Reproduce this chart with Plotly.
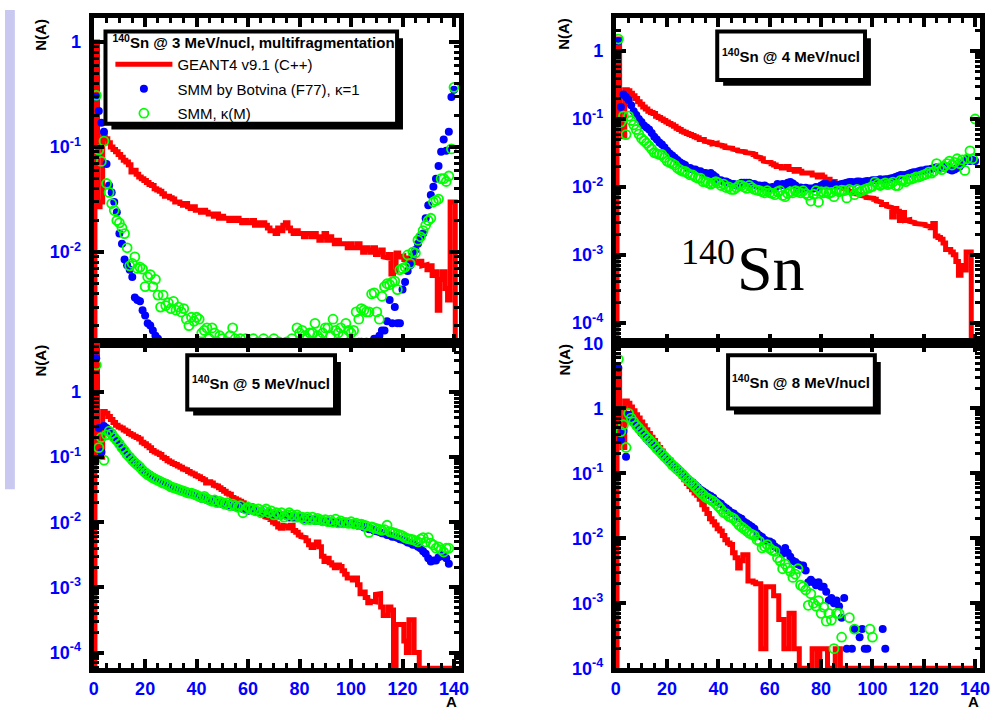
import plotly.graph_objects as go

W, H = 1007, 720
A = list(range(1, 141))

# ---------------- 3 MeV/nucl (top left) ----------------
g4_3 = [1.0, 0.027, 0.03, 0.13, 0.12, 0.11, 0.10, 0.095, 0.09, 0.085,
        0.08, 0.075, 0.072, 0.068, 0.058, 0.06, 0.055, 0.052, 0.05, 0.048,
        0.046, 0.044, 0.043, 0.04, 0.039, 0.038, 0.036, 0.034, 0.034, 0.033,
        0.032, 0.030, 0.030, 0.029, 0.028, 0.029, 0.027, 0.026, 0.027, 0.025,
        0.025, 0.024, 0.025, 0.024, 0.023, 0.023, 0.022, 0.023, 0.021, 0.022,
        0.021, 0.021, 0.020, 0.021, 0.020, 0.021, 0.020, 0.019, 0.020, 0.019,
        0.019, 0.020, 0.018, 0.019, 0.018, 0.019, 0.018, 0.017, 0.016, 0.016,
        0.015, 0.017, 0.016, 0.018, 0.019, 0.017, 0.016, 0.015, 0.016, 0.015,
        0.015, 0.014, 0.015, 0.015, 0.014, 0.015, 0.014, 0.013, 0.014, 0.015,
        0.013, 0.014, 0.013, 0.012, 0.013, 0.012, 0.012, 0.012, 0.011, 0.012,
        0.011, 0.011, 0.012, 0.011, 0.010, 0.011, 0.0105, 0.010, 0.011, 0.0095,
        0.010, 0.0105, 0.009, 0.0088, 0.0095, 0.0062, 0.0065, 0.0098, 0.009, 0.0092,
        0.0085, 0.0088, 0.0075, 0.0085, 0.008, 0.0078, 0.0082, 0.0074, 0.0076, 0.0068,
        0.0074, 0.006, 0.0065, 0.0028, 0.0055, 0.0065, 0.0045, 0.0035, 0.03, 0.03]
f77_3 = [0.30, 0.22, 0.17, 0.14, 0.069, 0.043, 0.037, 0.030, 0.024, 0.015,
         0.012, 0.0085, 0.0075, 0.0068, 0.0058, 0.0037, 0.0035, 0.0034, 0.0028, 0.0025,
         0.0021, 0.0020, 0.0018, 0.0016, 0.0015, 0.0013, 0.0012, 0.0011, 0.0010, 0.00095,
         0.0009, 0.00085, 0.0008, 0.00078, 0.00075, 0.0007, 0.00068, 0.00065, 0.00062, 0.0006,
         0.00058, 0.00055, 0.00054, 0.00052, 0.0005, 0.00049, 0.00048, 0.00047, 0.00046, 0.00045,
         0.00044, 0.00043, 0.00043, 0.00042, 0.00042, 0.00041, 0.00041, 0.0004, 0.0004, 0.0004,
         0.0004, 0.0004, 0.0004, 0.0004, 0.0004, 0.0004, 0.00041, 0.00041, 0.00042, 0.00042,
         0.00043, 0.00044, 0.00045, 0.00046, 0.00047, 0.00048, 0.0005, 0.00052, 0.00054, 0.00056,
         0.00058, 0.0006, 0.00062, 0.00065, 0.00068, 0.0007, 0.00074, 0.00078, 0.0008, 0.00085,
         0.0009, 0.00095, 0.001, 0.0011, 0.0011, 0.0012, 0.0012, 0.0013, 0.0013, 0.0013,
         0.0014, 0.0013, 0.0014, 0.0014, 0.0013, 0.0014, 0.0013, 0.0014, 0.0015, 0.0014,
         0.0016, 0.0018, 0.0018, 0.0022, 0.0035, 0.0021, 0.003, 0.0021, 0.0021, 0.0044,
         0.0052, 0.0066, 0.0075, 0.0093, 0.0105, 0.012, 0.014, 0.015, 0.021, 0.028,
         0.035, 0.042, 0.05, 0.066, 0.09, 0.118, 0.092, 0.14, 0.30, 0.35]
km_3 = [0.31, 0.094, 0.073, 0.114, 0.045, 0.037, 0.029, 0.025, 0.020, 0.019,
        0.017, 0.015, 0.011, 0.0074, 0.0078, 0.009, 0.007, 0.0072, 0.0069, 0.0047,
        0.0058, 0.0061, 0.0047, 0.0055, 0.0039, 0.003, 0.0039, 0.0031, 0.0033, 0.0029,
        0.0034, 0.0028, 0.003, 0.0027, 0.0029, 0.0023, 0.002, 0.0024, 0.0022, 0.0024,
        0.0023, 0.0017, 0.0018, 0.0019, 0.0015, 0.0019, 0.0017, 0.0014, 0.0016, 0.0015,
        0.0013, 0.0014, 0.0016, 0.0019, 0.0015, 0.0014, 0.0015, 0.0013, 0.0015, 0.0014,
        0.0012, 0.0015, 0.0013, 0.0014, 0.0012, 0.0015, 0.0011, 0.0014, 0.0013, 0.0015,
        0.0012, 0.0014, 0.0013, 0.0012, 0.0014, 0.0012, 0.0015, 0.0013, 0.0019, 0.0017,
        0.0018, 0.0016, 0.0015, 0.0017, 0.0017, 0.0021, 0.0016, 0.0015, 0.0017, 0.0019,
        0.0019, 0.0016, 0.0023, 0.0018, 0.0017, 0.0019, 0.0016, 0.0021, 0.0018, 0.0017,
        0.0018, 0.0027, 0.0023, 0.0029, 0.0028, 0.0027, 0.0027, 0.004, 0.0041, 0.0027,
        0.0023, 0.0038, 0.0047, 0.005, 0.0049, 0.0052, 0.0053, 0.0044, 0.0068, 0.007,
        0.0072, 0.0094, 0.0078, 0.01, 0.0098, 0.013, 0.014, 0.016, 0.018, 0.02,
        0.021, 0.03, 0.031, 0.032, 0.05, 0.05, 0.047, 0.053, 0.096, 0.37]

# ---------------- 4 MeV/nucl (top right) ----------------
g4_4 = [1.5, 0.09, 0.055, 0.27, 0.26, 0.24, 0.22, 0.20, 0.18, 0.165,
        0.15, 0.14, 0.13, 0.125, 0.12, 0.11, 0.105, 0.10, 0.095, 0.09,
        0.086, 0.082, 0.078, 0.073, 0.07, 0.066, 0.064, 0.061, 0.059, 0.057,
        0.055, 0.053, 0.05, 0.05, 0.047, 0.046, 0.045, 0.043, 0.044, 0.042,
        0.041, 0.04, 0.038, 0.037, 0.037, 0.036, 0.035, 0.034, 0.033, 0.033,
        0.032, 0.031, 0.031, 0.03, 0.028, 0.027, 0.026, 0.024, 0.024, 0.023,
        0.022, 0.021, 0.020, 0.020, 0.019, 0.019, 0.020, 0.018, 0.018, 0.017,
        0.018, 0.017, 0.016, 0.016, 0.016, 0.016, 0.015, 0.015, 0.014, 0.015,
        0.014, 0.013, 0.013, 0.012, 0.012, 0.011, 0.011, 0.010, 0.0095, 0.0092,
        0.0088, 0.0085, 0.008, 0.0078, 0.0077, 0.0075, 0.0072, 0.007, 0.007, 0.0068,
        0.0066, 0.0062, 0.006, 0.0055, 0.0055, 0.0052, 0.005, 0.0036, 0.0048, 0.0044,
        0.0032, 0.0042, 0.0032, 0.0033, 0.0031, 0.003, 0.0029, 0.0029, 0.0028, 0.0028,
        0.0027, 0.0026, 0.0025, 0.0029, 0.0019, 0.0018, 0.0017, 0.0015, 0.0012, 0.0012,
        0.0011, 0.001, 0.0008, 0.0005, 0.0007, 0.0006, 0.0011, 0.0011, 0, 0]
f77_4 = [1.4, 0.15, 0.23, 0.21, 0.19, 0.16, 0.13, 0.115, 0.10, 0.09,
         0.08, 0.075, 0.07, 0.062, 0.055, 0.05, 0.045, 0.042, 0.038, 0.034,
         0.031, 0.029, 0.027, 0.025, 0.023, 0.022, 0.021, 0.019, 0.019, 0.018,
         0.018, 0.017, 0.017, 0.016, 0.016, 0.0155, 0.016, 0.015, 0.014, 0.0125,
         0.0125, 0.012, 0.012, 0.0115, 0.011, 0.011, 0.0105, 0.011, 0.0115, 0.0115,
         0.0115, 0.0115, 0.011, 0.011, 0.0105, 0.0105, 0.010, 0.0105, 0.010, 0.0095,
         0.010, 0.0095, 0.011, 0.0105, 0.011, 0.0105, 0.0115, 0.0118, 0.0112, 0.0105,
         0.0092, 0.0098, 0.0095, 0.0097, 0.0095, 0.0095, 0.0095, 0.010, 0.0098, 0.0105,
         0.011, 0.011, 0.0105, 0.0105, 0.011, 0.0105, 0.0108, 0.011, 0.0112, 0.0115,
         0.0118, 0.0118, 0.0115, 0.012, 0.012, 0.0115, 0.012, 0.0122, 0.012, 0.0125,
         0.0125, 0.0125, 0.013, 0.0128, 0.013, 0.013, 0.0133, 0.0135, 0.014, 0.0145,
         0.015, 0.0148, 0.015, 0.0155, 0.016, 0.0165, 0.0165, 0.017, 0.0175, 0.0175,
         0.018, 0.018, 0.0185, 0.019, 0.0195, 0.0195, 0.019, 0.0195, 0.020, 0.018,
         0.0175, 0.018, 0.019, 0.020, 0.022, 0.024, 0.026, 0.024, 0.025, 0.024]
km_4 = [1.5, 0.09, 0.11, 0.059, 0.11, 0.095, 0.082, 0.07, 0.06, 0.052,
        0.048, 0.044, 0.04, 0.036, 0.032, 0.031, 0.03, 0.03, 0.027, 0.024,
        0.023, 0.022, 0.021, 0.019, 0.018, 0.017, 0.017, 0.016, 0.015, 0.015,
        0.014, 0.0135, 0.0135, 0.012, 0.012, 0.0115, 0.011, 0.0115, 0.012, 0.0115,
        0.0105, 0.011, 0.0098, 0.010, 0.0092, 0.0092, 0.0098, 0.0105, 0.0105, 0.010,
        0.0095, 0.0105, 0.0098, 0.0092, 0.009, 0.0088, 0.0085, 0.0082, 0.0088, 0.0082,
        0.008, 0.0077, 0.0085, 0.0088, 0.0075, 0.0072, 0.008, 0.0085, 0.0082, 0.0088,
        0.0085, 0.0082, 0.0088, 0.008, 0.0075, 0.0062, 0.0078, 0.0088, 0.006, 0.0085,
        0.0082, 0.0085, 0.008, 0.0083, 0.0072, 0.0088, 0.0085, 0.009, 0.0088, 0.0069,
        0.0092, 0.0088, 0.0077, 0.0092, 0.0085, 0.0088, 0.0092, 0.0095, 0.0098, 0.0102,
        0.0118, 0.011, 0.0105, 0.011, 0.0115, 0.0108, 0.0112, 0.0118, 0.0105, 0.0105,
        0.0125, 0.0125, 0.012, 0.013, 0.013, 0.0135, 0.014, 0.014, 0.0145, 0.015,
        0.0155, 0.0165, 0.016, 0.017, 0.022, 0.019, 0.018, 0.020, 0.022, 0.024,
        0.021, 0.023, 0.026, 0.022, 0.025, 0.0175, 0.026, 0.034, 0.026, 0.10]

# ---------------- 5 MeV/nucl (bottom left) ----------------
g4_5 = [6.0, 0.14, 0.10, 0.50, 0.47, 0.42, 0.38, 0.34, 0.31, 0.29,
        0.28, 0.26, 0.25, 0.23, 0.22, 0.21, 0.20, 0.19, 0.17, 0.16,
        0.15, 0.14, 0.127, 0.12, 0.115, 0.11, 0.10, 0.095, 0.088, 0.084,
        0.08, 0.077, 0.073, 0.07, 0.066, 0.064, 0.06, 0.057, 0.055, 0.052,
        0.05, 0.047, 0.045, 0.04, 0.042, 0.04, 0.037, 0.036, 0.034, 0.032,
        0.03, 0.028, 0.027, 0.024, 0.023, 0.022, 0.021, 0.020, 0.019, 0.018,
        0.018, 0.017, 0.016, 0.015, 0.014, 0.0127, 0.012, 0.0115, 0.011, 0.010,
        0.0095, 0.0085, 0.0081, 0.009, 0.0088, 0.0082, 0.009, 0.0075, 0.007, 0.0064,
        0.006, 0.0058, 0.0052, 0.0045, 0.0041, 0.0045, 0.005, 0.0042, 0.003, 0.0025,
        0.0028, 0.0024, 0.0022, 0.002, 0.0022, 0.0021, 0.0018, 0.0016, 0.0014, 0.0014,
        0.0013, 0.0014, 0.0011, 0.0008, 0.00085, 0.0007, 0.00058, 0.00062, 0.0006, 0.00078,
        0.0008, 0.0005, 0.00037, 0.00037, 0.0005, 0.00045, 0, 0.00027, 0.00027, 0.00027,
        0.00015, 0.0001, 0.00032, 0.00032, 0.0001, 0.0001, 0, 0, 0, 0,
        0, 0, 0, 0, 0, 0, 0, 0, 0, 0]
f77_5 = [3.3, 0.28, 0.12, 0.30, 0.28, 0.25, 0.22, 0.20, 0.175, 0.157,
         0.14, 0.13, 0.115, 0.10, 0.092, 0.085, 0.078, 0.072, 0.064, 0.060,
         0.056, 0.053, 0.050, 0.047, 0.045, 0.043, 0.041, 0.040, 0.038, 0.036,
         0.034, 0.033, 0.032, 0.031, 0.030, 0.028, 0.029, 0.027, 0.026, 0.025,
         0.025, 0.023, 0.024, 0.022, 0.021, 0.021, 0.022, 0.020, 0.020, 0.019,
         0.019, 0.018, 0.019, 0.018, 0.017, 0.017, 0.018, 0.016, 0.016, 0.015,
         0.016, 0.015, 0.015, 0.0145, 0.015, 0.014, 0.0135, 0.014, 0.013, 0.0135,
         0.013, 0.0125, 0.0127, 0.013, 0.0125, 0.0118, 0.0123, 0.012, 0.0115, 0.012,
         0.0118, 0.0112, 0.0115, 0.011, 0.0112, 0.0105, 0.0107, 0.0105, 0.0102, 0.0104,
         0.0101, 0.0098, 0.010, 0.0099, 0.0096, 0.0098, 0.0095, 0.0097, 0.0094, 0.0095,
         0.0093, 0.0091, 0.0088, 0.0088, 0.0083, 0.0085, 0.0078, 0.0078, 0.0074, 0.0073,
         0.0071, 0.0068, 0.0067, 0.0064, 0.0063, 0.006, 0.006, 0.0058, 0.0055, 0.0054,
         0.0052, 0.0049, 0.0048, 0.0045, 0.0045, 0.0042, 0.004, 0.0036, 0.0033, 0.0028,
         0.0025, 0.0026, 0.0026, 0.0029, 0.0032, 0.003, 0.0028, 0.0023, None, None]
km_5 = [2.6, 0.14, 0.20, 0.09, 0.22, 0.25, 0.23, 0.20, 0.18, 0.16,
        0.14, 0.125, 0.11, 0.10, 0.09, 0.082, 0.076, 0.07, 0.063, 0.058,
        0.054, 0.051, 0.048, 0.046, 0.044, 0.042, 0.040, 0.039, 0.037, 0.035,
        0.034, 0.033, 0.032, 0.031, 0.030, 0.029, 0.028, 0.028, 0.027, 0.026,
        0.025, 0.024, 0.025, 0.023, 0.022, 0.021, 0.022, 0.020, 0.021, 0.020,
        0.019, 0.020, 0.018, 0.019, 0.018, 0.017, 0.018, 0.014, 0.016, 0.017,
        0.016, 0.016, 0.015, 0.016, 0.014, 0.015, 0.016, 0.014, 0.015, 0.013,
        0.014, 0.013, 0.014, 0.012, 0.013, 0.014, 0.013, 0.012, 0.013, 0.012,
        0.012, 0.011, 0.012, 0.011, 0.012, 0.011, 0.0115, 0.011, 0.0105, 0.011,
        0.0102, 0.0108, 0.010, 0.0112, 0.0098, 0.0105, 0.0098, 0.010, 0.0096, 0.0102,
        0.0095, 0.0097, 0.0092, 0.0094, 0.009, 0.0088, 0.007, 0.0085, 0.0082, 0.008,
        0.0078, 0.0075, 0.0077, 0.009, 0.0072, 0.007, 0.0068, 0.0066, 0.0064, 0.0062,
        0.0058, 0.0056, 0.0055, 0.0054, 0.0052, 0.005, 0.0055, 0.0058, 0.005, 0.0058,
        0.0048, 0.0045, 0.004, 0.0042, 0.0038, 0.0035, 0.004, 0.004, None, None]

# ---------------- 8 MeV/nucl (bottom right) ----------------
g4_8 = [4.0, 0.35, 0.25, 1.3, 1.2, 1.05, 0.92, 0.80, 0.71, 0.62,
        0.54, 0.47, 0.41, 0.36, 0.32, 0.28, 0.25, 0.22, 0.19, 0.17,
        0.16, 0.14, 0.125, 0.11, 0.10, 0.09, 0.08, 0.07, 0.063, 0.056,
        0.05, 0.046, 0.04, 0.033, 0.028, 0.024, 0.020, 0.018, 0.016, 0.014,
        0.013, 0.011, 0.0095, 0.0085, 0.008, 0.006, 0.005, 0.0035, 0.0045, 0.0056,
        0.0056, 0.0022, 0.0022, 0.0021, 0.002, 0.002, 0.0002, 0.0002, 0.0018, 0.0018,
        0.0018, 0.0013, 0.0013, 0.00056, 0.00056, 0.0002, 0.0002, 0.0007, 0.0007, 0.0002,
        0.0002, 0, 0, 0, 0, 0, 0.0002, 0.0002, 0, 0.0002,
        0.0002, 0.0002, 0, 0, 0, 0.0002, 0.0002, 0, 0, 0] + [0] * 50
f77_8 = [4.2, 0.33, 0.45, 0.18, 0.80, 0.72, 0.60, 0.53, 0.47, 0.42,
         0.38, 0.34, 0.31, 0.28, 0.26, 0.24, 0.22, 0.20, 0.18, 0.165,
         0.15, 0.14, 0.13, 0.12, 0.105, 0.097, 0.09, 0.082, 0.077, 0.072,
         0.066, 0.061, 0.056, 0.053, 0.05, 0.047, 0.045, 0.042, 0.038, 0.036,
         0.034, 0.031, 0.029, 0.027, 0.025, 0.024, 0.022, 0.021, 0.020, 0.018,
         0.017, 0.016, 0.015, 0.014, 0.012, 0.011, 0.0105, 0.0095, 0.009, 0.0089,
         0.0085, 0.0075, 0.007, 0.0063, 0.0058, 0.0071, 0.006, 0.0052, 0.0045, 0.0043,
         0.004, 0.0038, 0.0038, 0.0032, 0.0021, 0.0023, 0.0021, 0.0019, 0.0021, 0.0018,
         0.0018, 0.0015, 0.0011, 0.0012, 0.001, 0.0011, 0.0009, 0.0006, 0.0012, 0.0002,
         None, 0.0002, 0.0004, None, 0.0003, 0.0004, 0.0002, 0.0002, None, None,
         None, None, None, 0.0004, 0.0002] + [None] * 35
km_8 = [5.7, 0.44, 0.56, 0.25, 0.84, 0.71, 0.62, 0.55, 0.50, 0.45,
        0.40, 0.36, 0.33, 0.30, 0.27, 0.24, 0.22, 0.20, 0.18, 0.165,
        0.15, 0.135, 0.125, 0.115, 0.106, 0.097, 0.088, 0.08, 0.074, 0.068,
        0.062, 0.056, 0.051, 0.047, 0.043, 0.041, 0.039, 0.037, 0.034, 0.031,
        0.028, 0.025, 0.024, 0.022, 0.021, 0.020, 0.018, 0.016, 0.015, 0.014,
        0.013, 0.012, 0.0115, 0.011, 0.0095, 0.009, 0.0071, 0.0075, 0.008, 0.007,
        0.0065, 0.0063, 0.005, 0.0045, 0.0034, 0.004, 0.0035, 0.0031, 0.0025, 0.0028,
        0.0034, 0.0019, 0.0018, 0.0016, 0.00093, 0.0014, 0.001, 0.0009, 0.0011, 0.0007,
        0.00087, 0.00053, 0.0007, 0.00055, 0.0002, 0.0007, 0.0007, 0.0003, None, None,
        0.0006, None, 0.0004, None, None, None, None, None, 0.0004, 0.0003] + [None] * 40

titles = ["<sup>140</sup>Sn @ 3 MeV/nucl, multifragmentation",
          "<sup>140</sup>Sn @ 4 MeV/nucl",
          "<sup>140</sup>Sn @ 5 MeV/nucl",
          "<sup>140</sup>Sn @ 8 MeV/nucl"]
names = ["GEANT4 v9.1 (C++)", "SMM by Botvina (F77), \u03ba=1", "SMM, \u03ba(M)"]
ytick_vals = [1e-4, 1e-3, 1e-2, 1e-1, 1, 10]
ytick_text = ["10<sup>-4</sup>", "10<sup>-3</sup>", "10<sup>-2</sup>", "10<sup>-1</sup>", "1", "10"]
xticks = [0, 20, 40, 60, 80, 100, 120, 140]

panels = [
    dict(n="", g4=g4_3, f77=f77_3, km=km_3, yr=(-2.86, 0.23), xd=(90, 461), yd=(8, 342), lab=False),
    dict(n="2", g4=g4_4, f77=f77_4, km=km_4, yr=(-4.29, 0.49), xd=(620, 990), yd=(8, 342), lab=False),
    dict(n="3", g4=g4_5, f77=f77_5, km=km_5, yr=(-4.24, 0.76), xd=(90, 461), yd=(342, 677), lab=True),
    dict(n="4", g4=g4_8, f77=f77_8, km=km_8, yr=(-4.0, 1.0), xd=(620, 990), yd=(343, 677), lab=True),
]

RED, BLUE, GREEN = "#ff0000", "#0000ff", "#00ff00"
FONT = "Liberation Sans"
tickfont = dict(family=FONT, size=18, color=BLUE, weight="bold")
minor_y = [k * 10.0 ** e for e in range(-5, 2) for k in range(2, 10)]

fig = go.Figure()
layout = dict(width=W, height=H, margin=dict(l=0, r=0, t=0, b=0),
              paper_bgcolor="white", plot_bgcolor="white", showlegend=True)

for i, p in enumerate(panels):
    floor = 10 ** p["yr"][0]
    hx, hy = [0.5], [floor]
    for a, v in zip(A, p["g4"]):
        vv = v if v > 0 else floor
        hx += [a - 0.5, a + 0.5]
        hy += [vv, vv]
    hx.append(140.5)
    hy.append(floor)
    xa, ya = "x" + p["n"], "y" + p["n"]
    first = (i == 0)
    fig.add_trace(go.Scatter(x=hx, y=hy, mode="lines", xaxis=xa, yaxis=ya,
                             line=dict(color=RED, width=5), name=names[0],
                             showlegend=first, legendgroup="g1"))
    fig.add_trace(go.Scatter(x=A, y=p["f77"], mode="markers", xaxis=xa, yaxis=ya,
                             marker=dict(color=BLUE, size=8, symbol="circle"),
                             name=names[1], showlegend=first, legendgroup="g2"))
    fig.add_trace(go.Scatter(x=A, y=p["km"], mode="markers", xaxis=xa, yaxis=ya,
                             marker=dict(color=GREEN, size=9, symbol="circle-open",
                                         line=dict(width=1.8, color=GREEN)),
                             name=names[2], showlegend=first, legendgroup="g3"))
    layout["xaxis" + p["n"]] = dict(
        domain=[p["xd"][0] / W, p["xd"][1] / W], anchor=ya, range=[0, 142],
        showline=True, linecolor="black", linewidth=5, mirror="ticks",
        ticks="inside", ticklen=9, tickwidth=4, tickcolor="black",
        tickmode="array", tickvals=xticks, ticktext=[str(v) for v in xticks],
        minor=dict(dtick=5, tick0=0, ticks="inside", ticklen=5, tickwidth=3, tickcolor="black", showgrid=False),
        showgrid=False, zeroline=False, showticklabels=p["lab"], tickfont=tickfont)
    layout["yaxis" + p["n"]] = dict(
        type="log", range=list(p["yr"]), domain=[1 - p["yd"][1] / H, 1 - p["yd"][0] / H],
        anchor=xa, showline=True, linecolor="black", linewidth=5, mirror="ticks",
        ticks="inside", ticklen=10, tickwidth=4, tickcolor="black",
        tickmode="array", tickvals=ytick_vals, ticktext=ytick_text,
        minor=dict(tickmode="array", tickvals=minor_y, ticks="inside", ticklen=5, tickwidth=3,
                   tickcolor="black", showgrid=False),
        showgrid=False, zeroline=False, tickfont=tickfont, ticklabelstandoff=4)


def rect(x0, y0, x1, y1, layer="above", **kw):
    return dict(type="rect", xref="paper", yref="paper", x0=x0 / W, x1=x1 / W,
                y0=1 - y1 / H, y1=1 - y0 / H, layer=layer, **kw)


boxes = [(102, 22, 398, 117), (723, 22, 873, 72), (185, 355, 335, 411), (734, 355, 883, 410)]
shapes = [rect(0, 0, 10, 493, layer="below", fillcolor="#c8c8f0", line=dict(width=0))]
for (x0, y0, x1, y1) in boxes:
    shapes.append(rect(x0 + 6, y0 + 7, x1 + 6, y1 + 6, fillcolor="black", line=dict(width=0)))
    shapes.append(rect(x0, y0, x1, y1, fillcolor="white", line=dict(color="black", width=4)))
layout["shapes"] = shapes


def note(x, y, text, size, family=FONT, xanchor="center", yanchor="middle", angle=0):
    return dict(x=x / W, y=1 - y / H, xref="paper", yref="paper", text=text,
                xanchor=xanchor, yanchor=yanchor, textangle=angle, showarrow=False,
                font=dict(family=family, size=size, color="black"))


ann = []
for k in (1, 2, 3):
    x0, y0, x1, y1 = boxes[k]
    ann.append(note((x0 + x1) / 2, (y0 + y1) / 2, "<b>" + titles[k] + "</b>", 15))
for (x, y) in [(36, 25), (567, 25), (36, 360), (567, 360)]:
    ann.append(note(x, y, "<b>N(A)</b>", 15, angle=-90))
for x in (453, 983):
    ann.append(note(x, 711, "<b>A</b>", 15))
ann.append(note(743, 249, "140", 36, family="Liberation Serif", xanchor="right"))
ann.append(note(741, 266, "Sn", 64, family="Liberation Serif", xanchor="left"))
layout["annotations"] = ann

layout["legend"] = dict(x=107 / W, y=1 - 19 / H, xanchor="left", yanchor="top",
                        bgcolor="rgba(0,0,0,0)", borderwidth=0, itemwidth=57,
                        font=dict(family=FONT, size=15, color="black"),
                        title=dict(text="<b>" + titles[0] + "</b>", font=dict(family=FONT, size=15)),
                        tracegroupgap=2)

fig.update_layout(**layout)
fig.write_html("out.html",
               post_script="document.body.style.margin='0';document.body.style.overflow='hidden';")
